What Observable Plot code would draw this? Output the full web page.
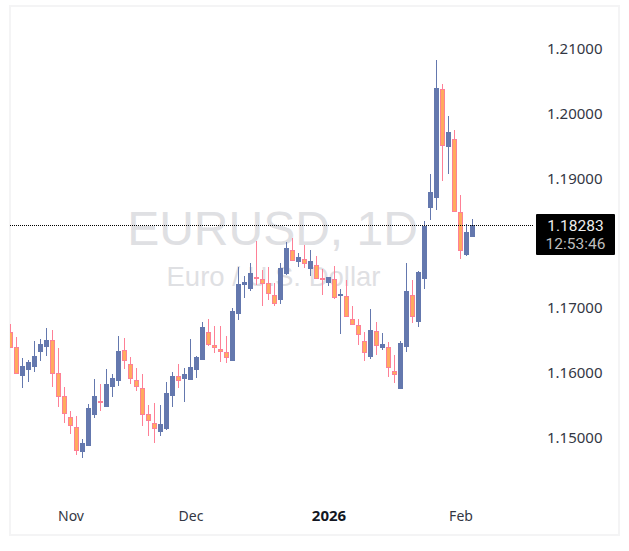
<!DOCTYPE html>
<html><head><meta charset="utf-8">
<script src="https://cdn.jsdelivr.net/npm/d3@7"></script>
<script src="https://cdn.jsdelivr.net/npm/@observablehq/plot@0.6"></script>
<style>
html,body{margin:0;padding:0;background:#fff;overflow:hidden}
#wrap{position:relative;width:629px;height:551px}
#frame{position:absolute;left:9px;top:5px;width:607px;height:527px;border:2px solid #f4f4f5;pointer-events:none}
#tag{position:absolute;left:536px;top:214px;width:79px;height:41px;background:#000;border-radius:1px;text-align:center;font:15.5px/18.3px Roboto,sans-serif;color:#eee;padding-top:2.5px;box-sizing:border-box}
#tag div+div{color:#bdbdbd}
</style></head><body><div id="wrap"><div id="frame"></div><div id="tag"></div></div>
<script>
const opens=[1.16631,1.16399,1.15977,1.16070,1.16116,1.16347,1.16425,1.16507,1.15997,1.15642,1.15318,1.15163,1.14803,1.14896,1.15375,1.15570,1.15498,1.15807,1.15900,1.16353,1.16136,1.15889,1.15766,1.15364,1.15225,1.15112,1.15158,1.15668,1.15951,1.15931,1.15915,1.16070,1.16224,1.16631,1.16435,1.16368,1.16322,1.16209,1.16934,1.17382,1.17315,1.17485,1.17454,1.17387,1.17202,1.17145,1.17552,1.17897,1.17737,1.17758,1.17629,1.17665,1.17464,1.17407,1.17449,1.17212,1.17186,1.16831,1.16738,1.16491,1.16270,1.16646,1.16404,1.16399,1.16028,1.15771,1.16424,1.17202,1.16810,1.17475,1.18571,1.18726,1.20384,1.19508,1.19611,1.18484,1.17840,1.18118];
const highs=[1.16759,1.16553,1.16229,1.16203,1.16492,1.16523,1.16698,1.16662,1.16384,1.15781,1.15411,1.15333,1.14978,1.15524,1.15905,1.15833,1.16059,1.15982,1.16574,1.16543,1.16245,1.16080,1.15982,1.15503,1.15534,1.15503,1.15864,1.16013,1.16142,1.16075,1.16528,1.16265,1.16790,1.16832,1.16723,1.16723,1.16574,1.17001,1.17639,1.17500,1.17701,1.18041,1.17593,1.17639,1.17392,1.17701,1.18025,1.18087,1.17855,1.17979,1.17902,1.17809,1.17603,1.17485,1.17655,1.17294,1.17438,1.17032,1.16836,1.16635,1.16991,1.16790,1.16620,1.16481,1.16280,1.16491,1.17701,1.17438,1.17577,1.18350,1.19076,1.20837,1.20466,1.19972,1.19755,1.18752,1.18304,1.18381];
const lows=[1.16394,1.15997,1.15771,1.15869,1.16023,1.16193,1.16270,1.15792,1.15483,1.15236,1.15066,1.14741,1.14695,1.14890,1.15313,1.15421,1.15483,1.15637,1.15807,1.16070,1.15838,1.15730,1.15189,1.15035,1.14927,1.15035,1.15127,1.15483,1.15776,1.15560,1.15915,1.15931,1.16209,1.16425,1.16306,1.16178,1.16162,1.16205,1.16821,1.17155,1.17274,1.17361,1.17037,1.17129,1.17042,1.17073,1.17521,1.17737,1.17644,1.17624,1.17505,1.17449,1.17207,1.17351,1.17145,1.16610,1.16862,1.16754,1.16435,1.16188,1.16224,1.16280,1.16357,1.15946,1.15853,1.15760,1.16332,1.16780,1.16713,1.17305,1.18366,1.18520,1.18973,1.19076,1.18505,1.17763,1.17810,1.18103];
const closes=[1.16409,1.15997,1.16111,1.16172,1.16265,1.16450,1.16512,1.15997,1.15642,1.15380,1.15194,1.14808,1.14916,1.15462,1.15647,1.15560,1.15833,1.15925,1.16342,1.16198,1.15920,1.15797,1.15375,1.15282,1.15148,1.15210,1.15689,1.15951,1.15900,1.15987,1.16090,1.16245,1.16713,1.16445,1.16409,1.16348,1.16255,1.16955,1.17377,1.17407,1.17546,1.17474,1.17397,1.17232,1.17088,1.17624,1.17933,1.17747,1.17794,1.17706,1.17727,1.17469,1.17454,1.17485,1.17176,1.17222,1.16888,1.16754,1.16599,1.16332,1.16666,1.16429,1.16445,1.16090,1.15992,1.16460,1.17269,1.16877,1.17562,1.18272,1.18798,1.20404,1.19529,1.19725,1.18510,1.17897,1.18180,1.18283];
const monthIdx=[10,30,75], monthLabels=["Nov","Dec","Feb"];
const yearIdx=[53], yearLabels=["2026"];
const priceTicks=[1.15,1.16,1.17,1.19,1.20,1.21];
const symbol="EURUSD, 1D", description="Euro / U.S. Dollar";
const lastPrice="1.18283", countdown="12:53:46";

const candles=opens.map((o,i)=>({i,o,h:highs[i],l:lows[i],c:closes[i],up:closes[i]>=o}));
const UP="#6478ae", DOWN="#fe8096", DOWNFILL="#ffab5e";
const font='"Noto Sans",sans-serif';
const axisColor="#131722";
const last=closes[closes.length-1];
const chart=Plot.plot({
  width:629,height:551,marginLeft:10,marginRight:95,marginTop:7,marginBottom:51,
  x:{type:"linear",domain:[0,77],range:[10.5,472.5],axis:null},
  y:{type:"linear",domain:[1.21,1.15],range:[49.4,437.9],round:true,axis:null},
  style:{background:"transparent",overflow:"visible"},
  marks:[
    Plot.text([symbol],{text:d=>d,frameAnchor:"top-left",lineAnchor:"middle",dx:262,dy:222.5,textAnchor:"middle",fontSize:48,fontFamily:"Liberation Sans",fill:"#dfe0e3"}),
    Plot.text([description],{text:d=>d,frameAnchor:"top-left",lineAnchor:"middle",dx:263,dy:269.5,textAnchor:"middle",fontSize:27.5,fontFamily:"Liberation Sans",fill:"#dfe0e3"}),
    Plot.ruleX(candles,{x:"i",y1:"l",y2:"h",stroke:d=>d.up?UP:DOWN,strokeWidth:1,dx:-0.5,clip:"frame"}),
    Plot.rect(candles,{x1:d=>d.i-1/3,x2:d=>d.i+1/3,y1:"o",y2:"c",fill:d=>d.up?UP:DOWNFILL,stroke:d=>d.up?UP:DOWN,strokeWidth:1,dy:0.5,clip:"frame"}),
    Plot.ruleY([last],{stroke:"#000",strokeWidth:1,strokeDasharray:"1,1"}),
    Plot.axisY(priceTicks,{anchor:"right",tickSize:0,tickPadding:0,dx:68,tickFormat:d3.format(".5f"),fontSize:15,fontFamily:font,fill:"#333744",label:null,textAnchor:"end"}),
    Plot.text(monthIdx,{x:d=>d,text:(d,i)=>monthLabels[i],frameAnchor:"bottom",lineAnchor:"middle",dy:16,fontSize:14,fontFamily:font,fill:"#333744"}),
    Plot.text(yearIdx,{x:d=>d,text:(d,i)=>yearLabels[i],frameAnchor:"bottom",lineAnchor:"middle",dy:16,fontSize:15,fontWeight:"bold",fontFamily:font,fill:axisColor})
  ]
});
document.getElementById("wrap").appendChild(chart);
chart.style.position="absolute";chart.style.left="0";chart.style.top="0";
document.getElementById("tag").innerHTML="<div>"+lastPrice+"</div><div>"+countdown+"</div>";
document.getElementById("wrap").appendChild(document.getElementById("tag"));
</script></body></html>
